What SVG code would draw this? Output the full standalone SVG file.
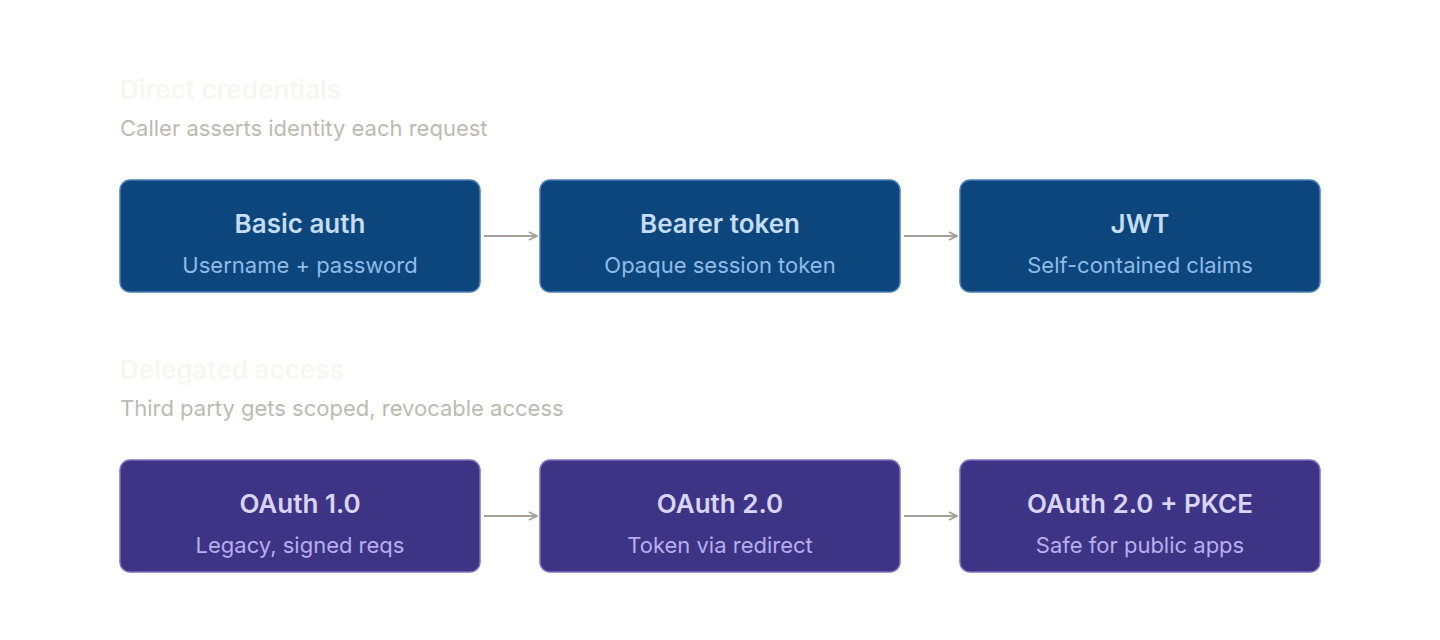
<svg xmlns="http://www.w3.org/2000/svg" width="1440" height="640" viewBox="0 0 1440 640">
<style>
.h{font-family:Inter,"Liberation Sans",sans-serif;font-size:26px;font-weight:600;fill:#f7f6f2}
.s{font-family:Inter,"Liberation Sans",sans-serif;font-size:22px;fill:#bdbab1}
.b1{fill:#0d467c;stroke:#4a7fb5;stroke-width:1.5}
.b2{fill:#3e3486;stroke:#7a70c0;stroke-width:1.5}
.t{font-family:Inter,"Liberation Sans",sans-serif;font-size:26px;font-weight:600;text-anchor:middle}
.u{font-family:Inter,"Liberation Sans",sans-serif;font-size:22px;text-anchor:middle}
.c1 .t{fill:#c5dcf5}.c1 .u{fill:#8fbbe8}
.c2 .t{fill:#d9d4f8}.c2 .u{fill:#b7aeee}
.e{stroke:#a3a097;stroke-width:2;fill:none;marker-end:url(#a)}
</style>
<defs><marker id="a" viewBox="0 0 10 10" refX="9" refY="5" markerWidth="10" markerHeight="10" markerUnits="userSpaceOnUse" orient="auto"><path d="M1 1L9 5L1 9" fill="none" stroke="#a3a097" stroke-width="1.8"/></marker></defs>
<rect width="1440" height="640" fill="#fff"/>
<text class="h" x="120" y="99">Direct credentials</text>
<text class="s" x="120" y="136">Caller asserts identity each request</text>
<text class="h" x="120" y="379">Delegated access</text>
<text class="s" x="120" y="416">Third party gets scoped, revocable access</text>
<g id="n1" class="c1"><rect class="b1" x="120" y="180" width="360" height="112" rx="10"/><text class="t" x="300" y="233">Basic auth</text><text class="u" x="300" y="273">Username + password</text></g>
<g id="n2" class="c1"><rect class="b1" x="540" y="180" width="360" height="112" rx="10"/><text class="t" x="720" y="233">Bearer token</text><text class="u" x="720" y="273">Opaque session token</text></g>
<g id="n3" class="c1"><rect class="b1" x="960" y="180" width="360" height="112" rx="10"/><text class="t" x="1140" y="233">JWT</text><text class="u" x="1140" y="273">Self-contained claims</text></g>
<g id="n4" class="c2"><rect class="b2" x="120" y="460" width="360" height="112" rx="10"/><text class="t" x="300" y="513">OAuth 1.0</text><text class="u" x="300" y="553">Legacy, signed reqs</text></g>
<g id="n5" class="c2"><rect class="b2" x="540" y="460" width="360" height="112" rx="10"/><text class="t" x="720" y="513">OAuth 2.0</text><text class="u" x="720" y="553">Token via redirect</text></g>
<g id="n6" class="c2"><rect class="b2" x="960" y="460" width="360" height="112" rx="10"/><text class="t" x="1140" y="513">OAuth 2.0 + PKCE</text><text class="u" x="1140" y="553">Safe for public apps</text></g>
<g id="connectors">
<line class="e" x1="484" y1="236" x2="537" y2="236"/>
<line class="e" x1="904" y1="236" x2="957" y2="236"/>
<line class="e" x1="484" y1="516" x2="537" y2="516"/>
<line class="e" x1="904" y1="516" x2="957" y2="516"/>
</g>
</svg>
